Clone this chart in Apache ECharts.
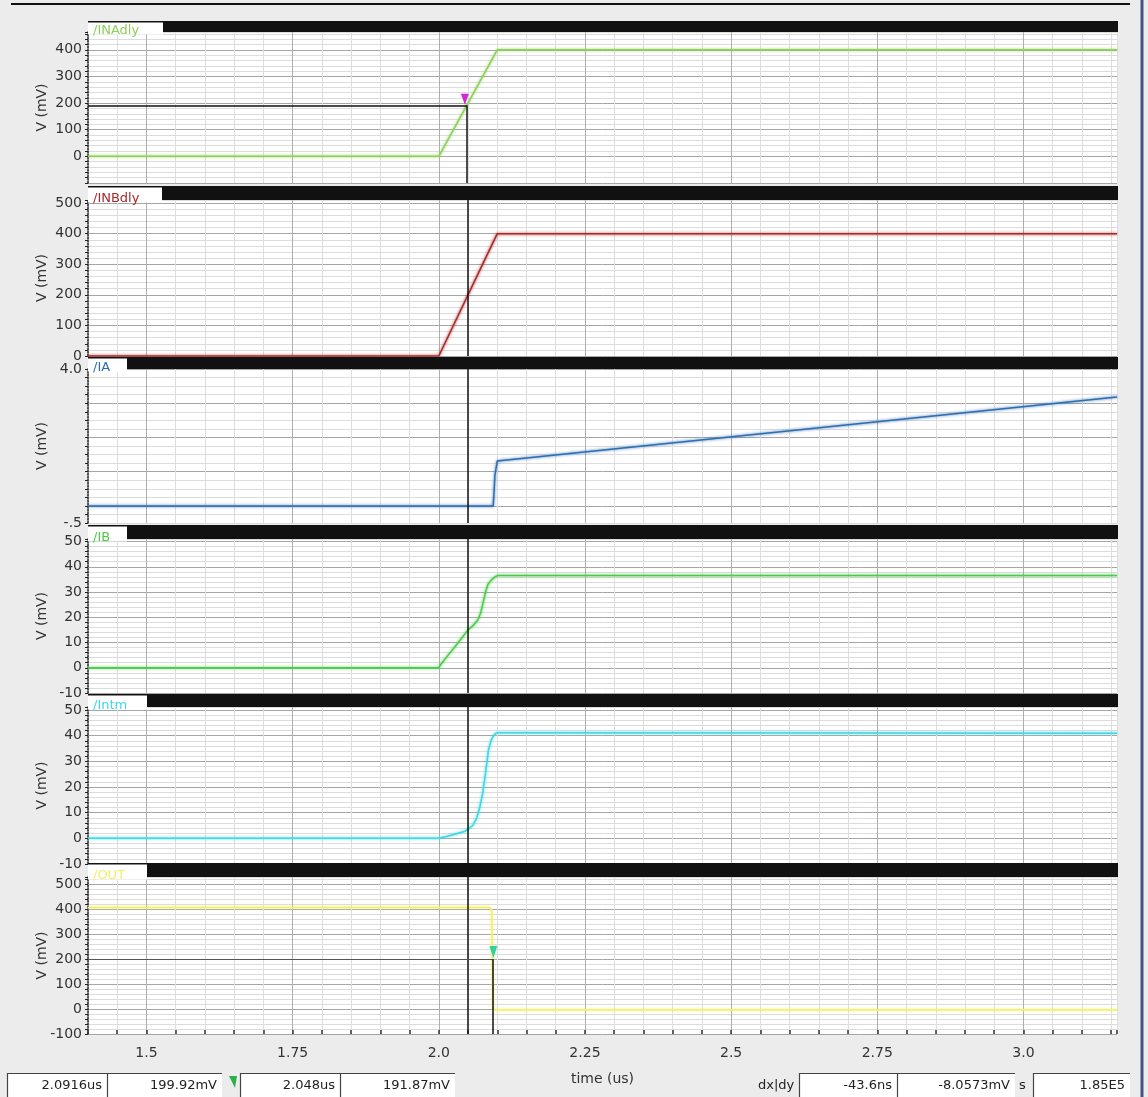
<!DOCTYPE html>
<html><head><meta charset="utf-8">
<script src="https://cdn.jsdelivr.net/npm/echarts@6/dist/echarts.min.js"></script>
<style>html,body{margin:0;padding:0;background:#ececec}#c{width:1148px;height:1097px}</style>
</head><body><div id="c"></div>
<script>
// ---------- data ----------
const xTickValues = [1.5, 1.75, 2.0, 2.25, 2.5, 2.75, 3.0];
const xTickLabels = ['1.5', '1.75', '2.0', '2.25', '2.5', '2.75', '3.0'];

const tINAdly = [1.4, 2.0, 2.1, 3.16];
const vINAdly = [0, 0, 400, 400];

const tINBdly = [1.4, 2.0, 2.1, 3.16];
const vINBdly = [0, 0, 400, 400];

const tIA = [1.4, 2.093, 2.0945, 2.096, 2.098, 2.1, 3.16];
const vIA = [0, 0, 0.4, 0.9, 1.1, 1.31, 3.18];

const tIB = [1.4, 2.0, 2.004, 2.015, 2.03, 2.05, 2.06, 2.067, 2.072, 2.076, 2.08, 2.084, 2.089, 2.095, 2.1, 3.16];
const vIB = [0, 0, 1.5, 4.7, 9, 15, 17, 19, 22, 26, 30, 33, 34.5, 35.8, 36.5, 36.5];

const tIntm = [1.4, 2.0, 2.015, 2.03, 2.045, 2.05, 2.058, 2.065, 2.07, 2.075, 2.08, 2.085, 2.09, 2.095, 2.1, 3.16];
const vIntm = [0, 0, 0.8, 1.8, 2.8, 3.6, 5, 8, 12, 17.5, 25.5, 34.5, 38.5, 40.5, 41.2, 41];

const tOUT = [1.4, 2.087, 2.0905, 2.0916, 2.0926, 2.094, 3.16];
const vOUT = [406, 406, 395, 199.92, 20, -3, -3];

const yTicksINAdly = [0, 100, 200, 300, 400];
const yLabelsINAdly = ['0', '100', '200', '300', '400'];
const yTicksINBdly = [0, 100, 200, 300, 400, 500];
const yLabelsINBdly = ['0', '100', '200', '300', '400', '500'];
const yTicksIA = [-0.5, 4.0];
const yLabelsIA = ['-.5', '4.0'];
const yTicksIB = [-10, 0, 10, 20, 30, 40, 50];
const yLabelsIB = ['-10', '0', '10', '20', '30', '40', '50'];
const yTicksIntm = [-10, 0, 10, 20, 30, 40, 50];
const yLabelsIntm = ['-10', '0', '10', '20', '30', '40', '50'];
const yTicksOUT = [-100, 0, 100, 200, 300, 400, 500];
const yLabelsOUT = ['-100', '0', '100', '200', '300', '400', '500'];
const yAxisTitle = 'V (mV)';
const xAxisTitle = 'time (us)';

const cursorA = { t: 2.0916, v: 199.92 };  // on /OUT
const cursorB = { t: 2.048, v: 191.87 };   // on /INAdly
const readA = ['2.0916us', '199.92mV'];
const readB = ['2.048us', '191.87mV'];
const readDelta = ['-43.6ns', '-8.0573mV'];
const readSlope = '1.85E5';

// ---------- layout / style ----------
const GL = 88, GW = 1029, XMIN = 1.4, XMAX = 3.16;
const FONT = 'DejaVu Sans';
const panels = [
  { name: '/INAdly', color: '#8fcf5c', t: tINAdly, v: vINAdly, barTop: 21, top: 32, h: 151, min: -100, max: 467, step: 20, period: 5, off: 0, ticks: yTicksINAdly, labels: yLabelsINAdly, boxW: 75 },
  { name: '/INBdly', color: '#a82a2a', t: tINBdly, v: vINBdly, barTop: 186, top: 200, h: 156, min: 0, max: 510, step: 20, period: 5, off: 0, ticks: yTicksINBdly, labels: yLabelsINBdly, boxW: 74 },
  { name: '/IA', color: '#2f6eb0', t: tIA, v: vIA, barTop: 357, top: 369, h: 154, min: -0.5, max: 4.0, step: 0.25, period: 4, off: 2, ticks: yTicksIA, labels: yLabelsIA, boxW: 39 },
  { name: '/IB', color: '#4ccc4c', t: tIB, v: vIB, barTop: 525, top: 539, h: 154, min: -10, max: 51, step: 2, period: 5, off: 0, ticks: yTicksIB, labels: yLabelsIB, boxW: 39 },
  { name: '/Intm', color: '#3fd6e6', t: tIntm, v: vIntm, barTop: 694, top: 707, h: 157, min: -10, max: 51.2, step: 2, period: 5, off: 0, ticks: yTicksIntm, labels: yLabelsIntm, boxW: 59 },
  { name: '/OUT', color: '#f2ef6a', t: tOUT, v: vOUT, barTop: 863, top: 877, h: 157, min: -100, max: 528, step: 20, period: 5, off: 0, ticks: yTicksOUT, labels: yLabelsOUT, boxW: 59 }
];

function cycle(period, off, major, minor) {
  const a = [];
  for (let i = 0; i < period; i++) a.push(i === off ? major : minor);
  return a;
}
function fmt(ticks, labels) {
  return function (val) {
    for (let i = 0; i < ticks.length; i++) if (Math.abs(val - ticks[i]) < 1e-6) return labels[i];
    return '';
  };
}

const grids = [], xAxes = [], yAxes = [], series = [], graphics = [];
const last = panels.length - 1;

panels.forEach((p, i) => {
  grids.push({ left: GL, top: p.top, width: GW, height: p.h, show: true, backgroundColor: '#ffffff', borderWidth: 0 });
  xAxes.push({
    type: 'value', gridIndex: i, min: XMIN, max: XMAX, interval: 0.05,
    axisLine: { show: false, onZero: false },
    axisTick: { show: i === last, inside: true, length: 4, lineStyle: { color: '#333', width: 1.5 } },
    axisLabel: { show: i === last, formatter: fmt(xTickValues, xTickLabels), fontFamily: FONT, fontSize: 14, color: '#333', margin: 12 },
    splitLine: { show: true, lineStyle: { color: cycle(5, 2, '#aeaeae', '#dedede'), width: 1 } },
    name: i === last ? xAxisTitle : '', nameLocation: 'middle', nameGap: 38,
    nameTextStyle: { fontFamily: FONT, fontSize: 14, color: '#333' }
  });
  yAxes.push({
    type: 'value', gridIndex: i, min: p.min, max: p.max, interval: p.step,
    axisLine: { show: true, onZero: false, lineStyle: { color: '#222', type: 'dotted', width: 1.5 } },
    axisTick: { show: true, length: 3, lineStyle: { color: '#222' } },
    axisLabel: { formatter: fmt(p.ticks, p.labels), fontFamily: FONT, fontSize: 14, color: '#333', margin: 6 },
    splitLine: { show: true, lineStyle: { color: cycle(p.period, p.off, '#a6a6a6', '#dcdcdc'), width: 1 } }
  });

  const s = {
    type: 'line', xAxisIndex: i, yAxisIndex: i, showSymbol: false, symbol: 'none',
    data: p.t.map((t, k) => [t, p.v[k]]),
    lineStyle: { color: p.color, width: 1.5, shadowColor: p.color, shadowBlur: 3 },
    z: 3, silent: true, animation: false
  };
  const ml = { symbol: 'none', silent: true, label: { show: false }, animation: false,
               lineStyle: { color: '#111', width: 1.5, type: 'solid' }, data: [] };
  if (i === 0) {
    ml.data.push([{ coord: [XMIN, cursorB.v] }, { coord: [cursorB.t, cursorB.v] }]);
    ml.data.push([{ coord: [cursorB.t, cursorB.v] }, { coord: [cursorB.t, p.min] }]);
    s.markPoint = { silent: true, animation: false, label: { show: false },
      data: [{ coord: [cursorB.t, cursorB.v], symbol: 'triangle', symbolRotate: 180, symbolSize: [8, 11], symbolOffset: [-2, -6], itemStyle: { color: '#d327d6' } }] };
  } else {
    ml.data.push({ xAxis: cursorB.t });
  }
  if (i === last) {
    ml.data.push([{ coord: [XMIN, cursorA.v], lineStyle: { color: '#555', width: 1.2 } }, { coord: [cursorA.t, cursorA.v] }]);
    ml.data.push([{ coord: [cursorA.t, cursorA.v] }, { coord: [cursorA.t, p.min] }]);
    s.markPoint = { silent: true, animation: false, label: { show: false },
      data: [{ coord: [cursorA.t, cursorA.v], symbol: 'triangle', symbolRotate: 180, symbolSize: [8, 12], symbolOffset: [1, -7], itemStyle: { color: '#2fd39a' } }] };
  }
  s.markLine = ml;
  series.push(s);

  // y axis title (placed at a fixed column like the reference)
  graphics.push({ type: 'text', x: 42, y: p.top + p.h / 2, rotation: Math.PI / 2,
    style: { text: yAxisTitle, fill: '#333', font: '14px "' + FONT + '"', textAlign: 'center', align: 'center', textVerticalAlign: 'middle', verticalAlign: 'middle' }, z: 12, silent: true });

  // header bar and signal label
  graphics.push({ type: 'rect', shape: { x: GL, y: p.barTop, width: GW + 1, height: p.top - p.barTop }, style: { fill: '#111' }, z: 10, silent: true });
  graphics.push({ type: 'rect', shape: { x: GL, y: p.barTop + 1.5, width: p.boxW, height: p.top - p.barTop + 1 }, style: { fill: '#ffffff' }, z: 11, silent: true });
  graphics.push({ type: 'text', x: GL + 5, y: p.top - 1, style: { text: p.name, fill: p.color, font: '13px "' + FONT + '"', textVerticalAlign: 'middle', verticalAlign: 'middle' }, z: 12, silent: true });
});

// window frame
graphics.push({ type: 'line', shape: { x1: 11, y1: 4, x2: 1130, y2: 4 }, style: { stroke: '#111', lineWidth: 2 }, z: 10, silent: true });
graphics.push({ type: 'line', shape: { x1: 1142, y1: 0, x2: 1142, y2: 1097 }, style: { stroke: '#42528a', lineWidth: 3 }, z: 10, silent: true });

// status bar readouts
const boxes = [
  [7, 100, readA[0]], [107, 115, readA[1]],
  [240, 100, readB[0]], [340, 115, readB[1]],
  [799, 98, readDelta[0]], [897, 118, readDelta[1]],
  [1033, 97, readSlope]
];
boxes.forEach(b => {
  graphics.push({ type: 'rect', shape: { x: b[0], y: 1073, width: b[1], height: 24 }, style: { fill: '#ffffff' }, z: 10, silent: true });
  graphics.push({ type: 'polyline', shape: { points: [[b[0] + 0.5, 1097], [b[0] + 0.5, 1073.5], [b[0] + b[1], 1073.5]] }, style: { stroke: '#444', lineWidth: 1.2, fill: null }, z: 11, silent: true });
  graphics.push({ type: 'text', x: b[0] + b[1] - 5, y: 1086, style: { text: b[2], fill: '#222', font: '13px "' + FONT + '"', textAlign: 'right', align: 'right', textVerticalAlign: 'middle', verticalAlign: 'middle' }, z: 12, silent: true });
});
graphics.push({ type: 'text', x: 758, y: 1086, style: { text: 'dx|dy', fill: '#222', font: '13px "' + FONT + '"', textVerticalAlign: 'middle', verticalAlign: 'middle' }, z: 12, silent: true });
graphics.push({ type: 'text', x: 1019, y: 1086, style: { text: 's', fill: '#222', font: '13px "' + FONT + '"', textVerticalAlign: 'middle', verticalAlign: 'middle' }, z: 12, silent: true });
graphics.push({ type: 'polygon', shape: { points: [[229, 1076], [237, 1076], [235, 1088]] }, style: { fill: '#2bb04a' }, z: 12, silent: true });

const chart = echarts.init(document.getElementById('c'), null, { renderer: 'canvas' });
chart.setOption({
  backgroundColor: '#ececec',
  animation: false,
  textStyle: { fontFamily: FONT },
  grid: grids, xAxis: xAxes, yAxis: yAxes, series: series, graphic: graphics
});
</script>
</body></html>
